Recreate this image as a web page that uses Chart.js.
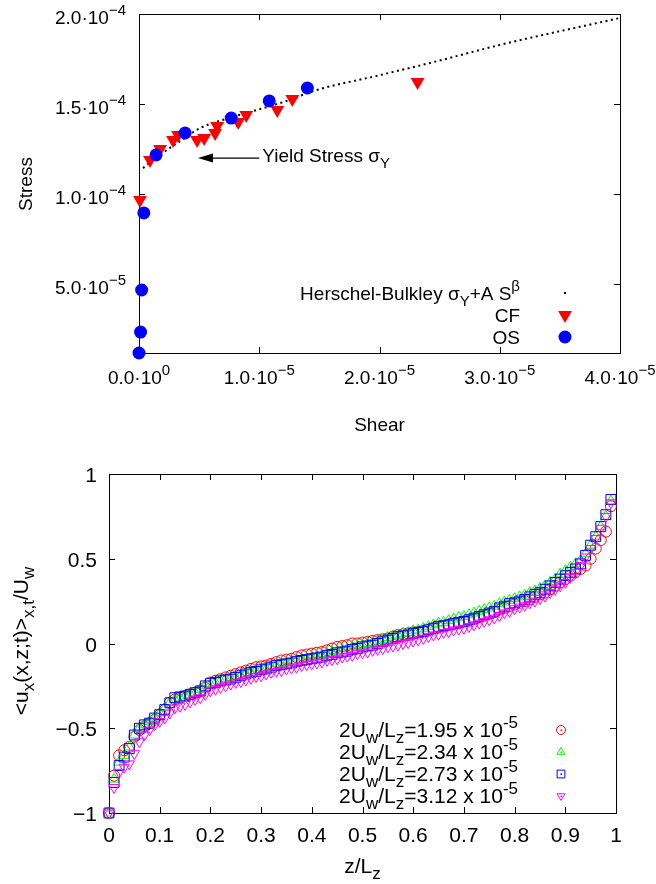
<!DOCTYPE html>
<html>
<head>
<meta charset="utf-8">
<title>Stress and velocity profiles</title>
<script src="https://cdn.jsdelivr.net/npm/chart.js@4.4.1/dist/chart.umd.min.js"></script>
<style>
  html, body { margin: 0; padding: 0; background: #fff; }
  #wrap { position: relative; width: 656px; height: 884px; }
  canvas { position: absolute; left: 0; }
  #stressChart { top: 0; }
  #profileChart { top: 440px; }
</style>
</head>
<body>
<div id="wrap">
  <canvas id="stressChart" width="656" height="440"></canvas>
  <canvas id="profileChart" width="656" height="444"></canvas>
</div>
<script>
const FONT = '"Liberation Sans", Arial, Helvetica, sans-serif';

// ---- top panel: stress vs shear ----
const hbShear  = [3.3e-7, 1.5e-6, 3.8e-6, 5.1e-6, 7.8e-6, 1.2e-5, 1.48e-5, 2.0e-5, 2.45e-5, 3.0e-5, 4.0e-5];
const hbStress = [1.144e-4, 1.206e-4, 1.311e-4, 1.367e-4, 1.428e-4, 1.511e-4, 1.578e-4, 1.66e-4, 1.733e-4, 1.828e-4, 1.978e-4];

const cfShear  = [8e-8, 9.2e-7, 1.75e-6, 2.83e-6, 3.25e-6, 4.83e-6, 5.42e-6, 6.33e-6, 6.5e-6, 8.25e-6, 8.92e-6, 1.15e-5, 1.275e-5, 2.317e-5];
const cfStress = [9.67e-5, 1.189e-4, 1.25e-4, 1.30e-4, 1.328e-4, 1.30e-4, 1.311e-4, 1.339e-4, 1.378e-4, 1.40e-4, 1.439e-4, 1.467e-4, 1.528e-4, 1.622e-4];

const osShear  = [0, 1.3e-7, 2.2e-7, 4.0e-7, 1.42e-6, 3.83e-6, 7.67e-6, 1.083e-5, 1.4e-5];
const osStress = [1.17e-5, 2.33e-5, 4.67e-5, 8.95e-5, 1.217e-4, 1.339e-4, 1.422e-4, 1.517e-4, 1.589e-4];

const shearTicks = [0, 1e-5, 2e-5, 3e-5, 4e-5];
const shearTickLabels = ['0.0·10^{0}', '1.0·10^{−5}', '2.0·10^{−5}', '3.0·10^{−5}', '4.0·10^{−5}'];
const stressTicks = [5e-5, 1e-4, 1.5e-4, 2e-4];
const stressTickLabels = ['5.0·10^{−5}', '1.0·10^{−4}', '1.5·10^{−4}', '2.0·10^{−4}'];
const stressLegend = ['Herschel-Bulkley σ_{Y}+A S^{β}', 'CF', 'OS'];

// ---- bottom panel: mean velocity profiles ----
const zValues = [
  0.00, 0.01, 0.02, 0.03, 0.04, 0.05, 0.06, 0.07, 0.08, 0.09,
  0.10, 0.11, 0.12, 0.13, 0.14, 0.15, 0.16, 0.17, 0.18, 0.19,
  0.20, 0.21, 0.22, 0.23, 0.24, 0.25, 0.26, 0.27, 0.28, 0.29,
  0.30, 0.31, 0.32, 0.33, 0.34, 0.35, 0.36, 0.37, 0.38, 0.39,
  0.40, 0.41, 0.42, 0.43, 0.44, 0.45, 0.46, 0.47, 0.48, 0.49,
  0.50, 0.51, 0.52, 0.53, 0.54, 0.55, 0.56, 0.57, 0.58, 0.59,
  0.60, 0.61, 0.62, 0.63, 0.64, 0.65, 0.66, 0.67, 0.68, 0.69,
  0.70, 0.71, 0.72, 0.73, 0.74, 0.75, 0.76, 0.77, 0.78, 0.79,
  0.80, 0.81, 0.82, 0.83, 0.84, 0.85, 0.86, 0.87, 0.88, 0.89,
  0.90, 0.91, 0.92, 0.93, 0.94, 0.95, 0.96, 0.97, 0.98, 0.99
];
const u195 = [
  -1.00, -0.78, -0.66, -0.63, -0.61, -0.55, -0.51, -0.49, -0.47, -0.45,
  -0.42, -0.39, -0.35, -0.33, -0.32, -0.31, -0.30, -0.29, -0.28, -0.26,
  -0.23, -0.22, -0.21, -0.20, -0.19, -0.18, -0.17, -0.16, -0.15, -0.14,
  -0.135, -0.13, -0.12, -0.11, -0.10, -0.095, -0.09, -0.08, -0.07, -0.065,
  -0.06, -0.055, -0.05, -0.04, -0.03, -0.02, -0.015, -0.01, 0.00, 0.00,
  0.005, 0.01, 0.015, 0.02, 0.025, 0.03, 0.04, 0.05, 0.055, 0.06,
  0.065, 0.07, 0.075, 0.08, 0.09, 0.095, 0.10, 0.11, 0.115, 0.12,
  0.13, 0.135, 0.145, 0.155, 0.165, 0.175, 0.185, 0.20, 0.21, 0.22,
  0.23, 0.24, 0.25, 0.26, 0.275, 0.29, 0.30, 0.32, 0.34, 0.36,
  0.38, 0.40, 0.42, 0.44, 0.46, 0.50, 0.56, 0.61, 0.66, 0.81
];
const u234 = [
  -1.00, -0.80, -0.70, -0.66, -0.61, -0.54, -0.50, -0.48, -0.46, -0.44,
  -0.41, -0.38, -0.35, -0.33, -0.32, -0.31, -0.30, -0.29, -0.27, -0.25,
  -0.24, -0.23, -0.22, -0.21, -0.205, -0.20, -0.19, -0.18, -0.17, -0.16,
  -0.155, -0.15, -0.14, -0.13, -0.12, -0.115, -0.11, -0.10, -0.095, -0.09,
  -0.08, -0.075, -0.07, -0.06, -0.05, -0.045, -0.04, -0.03, -0.02, -0.015,
  -0.01, 0.00, 0.005, 0.015, 0.025, 0.035, 0.045, 0.05, 0.06, 0.065,
  0.075, 0.08, 0.09, 0.10, 0.11, 0.12, 0.125, 0.135, 0.145, 0.155,
  0.16, 0.17, 0.18, 0.19, 0.20, 0.21, 0.22, 0.235, 0.245, 0.255,
  0.265, 0.275, 0.285, 0.30, 0.31, 0.325, 0.34, 0.36, 0.38, 0.41,
  0.43, 0.45, 0.47, 0.49, 0.53, 0.58, 0.63, 0.69, 0.75, 0.84
];
const u273 = [
  -1.00, -0.82, -0.72, -0.67, -0.62, -0.54, -0.50, -0.48, -0.47, -0.44,
  -0.42, -0.39, -0.35, -0.32, -0.315, -0.31, -0.30, -0.29, -0.28, -0.25,
  -0.235, -0.23, -0.22, -0.215, -0.21, -0.20, -0.19, -0.18, -0.17, -0.165,
  -0.155, -0.15, -0.14, -0.13, -0.125, -0.12, -0.115, -0.105, -0.10, -0.095,
  -0.09, -0.085, -0.08, -0.07, -0.065, -0.055, -0.05, -0.045, -0.035, -0.03,
  -0.02, -0.015, -0.01, 0.00, 0.01, 0.02, 0.03, 0.04, 0.045, 0.05,
  0.06, 0.065, 0.07, 0.08, 0.09, 0.10, 0.105, 0.11, 0.12, 0.125,
  0.13, 0.14, 0.15, 0.16, 0.17, 0.18, 0.19, 0.21, 0.22, 0.235,
  0.24, 0.25, 0.26, 0.275, 0.29, 0.30, 0.32, 0.34, 0.36, 0.38,
  0.40, 0.42, 0.44, 0.47, 0.52, 0.58, 0.63, 0.69, 0.76, 0.85
];
const u312 = [
  -1.00, -0.85, -0.76, -0.73, -0.71, -0.65, -0.58, -0.54, -0.51, -0.48,
  -0.46, -0.44, -0.41, -0.38, -0.37, -0.36, -0.345, -0.33, -0.32, -0.30,
  -0.28, -0.27, -0.26, -0.25, -0.24, -0.23, -0.225, -0.215, -0.205, -0.195,
  -0.19, -0.18, -0.17, -0.165, -0.16, -0.15, -0.145, -0.14, -0.13, -0.125,
  -0.12, -0.115, -0.11, -0.10, -0.095, -0.09, -0.08, -0.075, -0.07, -0.06,
  -0.055, -0.05, -0.04, -0.035, -0.03, -0.02, -0.015, -0.01, 0.00, 0.005,
  0.015, 0.02, 0.03, 0.04, 0.05, 0.055, 0.065, 0.07, 0.08, 0.085,
  0.09, 0.10, 0.11, 0.12, 0.13, 0.14, 0.15, 0.165, 0.18, 0.19,
  0.205, 0.215, 0.225, 0.24, 0.25, 0.265, 0.28, 0.30, 0.32, 0.34,
  0.36, 0.39, 0.42, 0.46, 0.51, 0.56, 0.62, 0.68, 0.75, 0.83
];

const zTicks = [0, 0.1, 0.2, 0.3, 0.4, 0.5, 0.6, 0.7, 0.8, 0.9, 1];
const zTickLabels = ['0', '0.1', '0.2', '0.3', '0.4', '0.5', '0.6', '0.7', '0.8', '0.9', '1'];
const uTicks = [-1, -0.5, 0, 0.5, 1];
const uTickLabels = ['−1', '−0.5', '0', '0.5', '1'];
const rateLegend = [
  '2U_{w}/L_{z}=1.95 x 10^{-5}',
  '2U_{w}/L_{z}=2.34 x 10^{-5}',
  '2U_{w}/L_{z}=2.73 x 10^{-5}',
  '2U_{w}/L_{z}=3.12 x 10^{-5}'
];

// gnuplot-like enhanced text: ^{..} superscript, _{..} subscript
function parseEnhanced(str) {
  const parts = [];
  let buf = '';
  let i = 0;
  while (i < str.length) {
    const c = str[i];
    if ((c === '^' || c === '_') && str[i + 1] === '{') {
      if (buf) { parts.push({ text: buf, shift: 0 }); buf = ''; }
      const end = str.indexOf('}', i);
      parts.push({ text: str.slice(i + 2, end), shift: c === '^' ? 1 : -1 });
      i = end + 1;
    } else {
      buf += c;
      i++;
    }
  }
  if (buf) parts.push({ text: buf, shift: 0 });
  return parts;
}

function drawEnhanced(ctx, str, x, y, align, size) {
  const parts = parseEnhanced(str);
  const small = Math.round(size * 0.8);
  let total = 0;
  parts.forEach(p => {
    ctx.font = (p.shift ? small : size) + 'px ' + FONT;
    p.w = ctx.measureText(p.text).width;
    total += p.w;
  });
  let cx = align === 'right' ? x - total : (align === 'center' ? x - total / 2 : x);
  ctx.textAlign = 'left';
  ctx.textBaseline = 'alphabetic';
  parts.forEach(p => {
    ctx.font = (p.shift ? small : size) + 'px ' + FONT;
    const dy = p.shift > 0 ? -0.45 * size : (p.shift < 0 ? 0.3 * size : 0);
    ctx.fillText(p.text, cx, y + dy);
    cx += p.w;
  });
}

function drawRotated(ctx, str, x, y, size) {
  ctx.save();
  ctx.translate(x, y);
  ctx.rotate(-Math.PI / 2);
  drawEnhanced(ctx, str, 0, 0, 'center', size);
  ctx.restore();
}

function legendMarker(ctx, color, style, rotation, radius, x, y, centerDot) {
  ctx.save();
  ctx.strokeStyle = color;
  ctx.fillStyle = 'rgba(0,0,0,0)';
  ctx.lineWidth = 1;
  Chart.helpers.drawPoint(ctx, { pointStyle: style, rotation: rotation, radius: radius, borderWidth: 1 }, x, y);
  if (centerDot) {
    ctx.fillStyle = color;
    ctx.fillRect(x - 0.5, y - 0.5, 1.5, 1.5);
  }
  ctx.restore();
}

// frame, inward ticks on all four sides, tick labels and axis titles
function gnuplotAxes(cfg) {
  return {
    id: 'gnuplotAxes',
    beforeDatasetsDraw(chart) {
      const { ctx, chartArea: a, scales } = chart;
      ctx.save();
      ctx.strokeStyle = '#000';
      ctx.lineWidth = 1;
      ctx.strokeRect(a.left + 0.5, a.top + 0.5, a.right - a.left, a.bottom - a.top);
      ctx.beginPath();
      cfg.xTicks.forEach(v => {
        const px = Math.round(scales.x.getPixelForValue(v)) + 0.5;
        ctx.moveTo(px, a.bottom); ctx.lineTo(px, a.bottom - 6);
        ctx.moveTo(px, a.top); ctx.lineTo(px, a.top + 6);
      });
      cfg.yTicks.forEach(v => {
        const py = Math.round(scales.y.getPixelForValue(v)) + 0.5;
        ctx.moveTo(a.left, py); ctx.lineTo(a.left + 6, py);
        ctx.moveTo(a.right, py); ctx.lineTo(a.right - 6, py);
      });
      ctx.stroke();
      ctx.restore();
    },
    afterDraw(chart) {
      const { ctx, chartArea: a, scales } = chart;
      ctx.save();
      ctx.fillStyle = '#000';
      cfg.xTicks.forEach((v, i) => {
        drawEnhanced(ctx, cfg.xLabels[i], scales.x.getPixelForValue(v), a.bottom + cfg.xLabelDrop, 'center', cfg.fontSize);
      });
      cfg.yTicks.forEach((v, i) => {
        drawEnhanced(ctx, cfg.yLabels[i], a.left - cfg.yLabelGap, scales.y.getPixelForValue(v) + cfg.yLabelShift, 'right', cfg.fontSize);
      });
      drawEnhanced(ctx, cfg.xTitle, (a.left + a.right) / 2, cfg.xTitleY, 'center', cfg.fontSize);
      drawRotated(ctx, cfg.yTitle, cfg.yTitleX, cfg.yTitleY, cfg.fontSize);
      if (cfg.extra) cfg.extra(chart);
      ctx.restore();
    }
  };
}

// ---------- top chart ----------
new Chart(document.getElementById('stressChart').getContext('2d'), {
  type: 'scatter',
  data: {
    datasets: [
      {
        label: stressLegend[2],
        data: osShear.map((s, i) => ({ x: s, y: osStress[i] })),
        pointStyle: 'circle',
        pointRadius: 6.5,
        pointBackgroundColor: '#0000ff',
        pointBorderColor: '#0000ff',
        pointBorderWidth: 0,
        order: 0,
        clip: false
      },
      {
        label: stressLegend[1],
        data: cfShear.map((s, i) => ({ x: s, y: cfStress[i] })),
        pointStyle: 'triangle',
        pointRotation: 180,
        pointRadius: 8,
        pointBackgroundColor: '#ff0000',
        pointBorderColor: '#ff0000',
        pointBorderWidth: 0,
        order: 1,
        clip: false
      },
      {
        label: stressLegend[0],
        data: hbShear.map((s, i) => ({ x: s, y: hbStress[i] })),
        showLine: true,
        borderColor: '#000',
        borderWidth: 2,
        borderDash: [2, 3.5],
        cubicInterpolationMode: 'monotone',
        pointRadius: 0,
        order: 2,
        clip: false
      }
    ]
  },
  options: {
    responsive: false,
    animation: false,
    layout: { padding: { left: 139, right: 36, top: 14, bottom: 87 } },
    plugins: { legend: { display: false }, tooltip: { enabled: false } },
    scales: {
      x: { type: 'linear', display: false, min: 0, max: 4e-5 },
      y: { type: 'linear', display: false, min: 1.17e-5, max: 2e-4 }
    }
  },
  plugins: [gnuplotAxes({
    xTicks: shearTicks, xLabels: shearTickLabels,
    yTicks: stressTicks, yLabels: stressTickLabels,
    fontSize: 19, xLabelDrop: 31, yLabelGap: 13, yLabelShift: 9.5,
    xTitle: 'Shear', xTitleY: 431,
    yTitle: 'Stress', yTitleX: 32, yTitleY: 184,
    extra(chart) {
      const { ctx, scales } = chart;
      // annotation arrow
      const y = scales.y.getPixelForValue(1.2e-4);
      const x0 = scales.x.getPixelForValue(1.0e-5);
      const x1 = scales.x.getPixelForValue(4.9e-6);
      ctx.strokeStyle = '#000';
      ctx.lineWidth = 1.2;
      ctx.beginPath();
      ctx.moveTo(x0, y);
      ctx.lineTo(x1 + 12, y);
      ctx.stroke();
      ctx.beginPath();
      ctx.moveTo(x1, y);
      ctx.lineTo(x1 + 15, y - 4.5);
      ctx.lineTo(x1 + 15, y + 4.5);
      ctx.closePath();
      ctx.fill();
      drawEnhanced(ctx, 'Yield Stress σ_{Y}', x0 + 3, y + 4, 'left', 19);

      // key
      const rows = [293, 315, 337];
      stressLegend.forEach((t, i) => drawEnhanced(ctx, t, 520, rows[i] + 7, 'right', 19));
      ctx.fillStyle = '#000';
      ctx.fillRect(564, rows[0] - 1, 2, 2);
      ctx.save();
      ctx.fillStyle = '#ff0000';
      Chart.helpers.drawPoint(ctx, { pointStyle: 'triangle', rotation: 180, radius: 8, borderWidth: 0 }, 565, rows[1]);
      ctx.fillStyle = '#0000ff';
      Chart.helpers.drawPoint(ctx, { pointStyle: 'circle', rotation: 0, radius: 6.5, borderWidth: 0 }, 565, rows[2]);
      ctx.restore();
    }
  })]
});

// ---------- bottom chart ----------
const profileStyles = [
  { values: u195, color: '#ff0000', style: 'circle', rotation: 0, radius: 5.5, order: 3 },
  { values: u234, color: '#00ff00', style: 'triangle', rotation: 0, radius: 6, order: 2 },
  { values: u273, color: '#0000ff', style: 'rect', rotation: 0, radius: 7, order: 1 },
  { values: u312, color: '#ff00ff', style: 'triangle', rotation: 180, radius: 6, order: 0 }
];

new Chart(document.getElementById('profileChart').getContext('2d'), {
  type: 'scatter',
  data: {
    datasets: profileStyles.map((p, k) => ({
      label: rateLegend[k],
      data: zValues.map((z, i) => ({ x: z, y: p.values[i] })),
      pointStyle: p.style,
      pointRotation: p.rotation,
      pointRadius: p.radius,
      pointBorderColor: p.color,
      pointBackgroundColor: 'rgba(0,0,0,0)',
      pointBorderWidth: 1,
      order: p.order,
      clip: false
    }))
  },
  options: {
    responsive: false,
    animation: false,
    layout: { padding: { left: 109, right: 40, top: 34, bottom: 71 } },
    plugins: { legend: { display: false }, tooltip: { enabled: false } },
    scales: {
      x: { type: 'linear', display: false, min: 0, max: 1 },
      y: { type: 'linear', display: false, min: -1, max: 1 }
    }
  },
  plugins: [gnuplotAxes({
    xTicks: zTicks, xLabels: zTickLabels,
    yTicks: uTicks, yLabels: uTickLabels,
    fontSize: 21, xLabelDrop: 29, yLabelGap: 12, yLabelShift: 8,
    xTitle: 'z/L_{z}', xTitleY: 433,
    yTitle: '<u_{x}(x,z;t)>_{x,t}/U_{w}', yTitleX: 28, yTitleY: 201,
    extra(chart) {
      const { ctx } = chart;
      const rows = [290, 312, 334, 356];
      rateLegend.forEach((t, i) => drawEnhanced(ctx, t, 518, rows[i] + 7, 'right', 21));
      profileStyles.forEach((p, i) => {
        legendMarker(ctx, p.color, p.style, p.rotation, p.style === 'rect' ? 5.5 : 4.5, 561, rows[i], true);
      });
    }
  })]
});
</script>
</body>
</html>
